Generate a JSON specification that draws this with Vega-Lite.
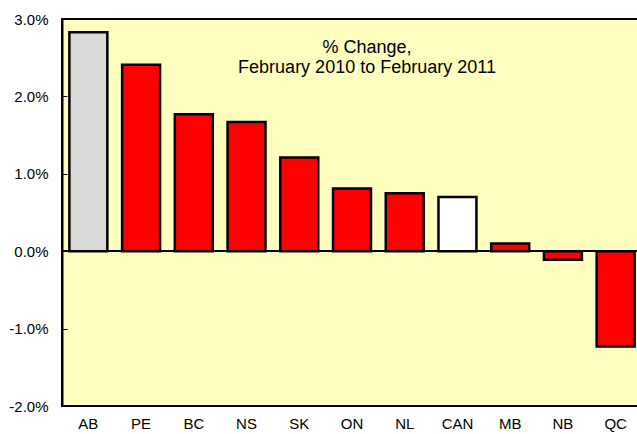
{
  "$schema": "https://vega.github.io/schema/vega-lite/v6.json",
  "width": 580,
  "height": 387,
  "autosize": {"type": "none"},
  "padding": {"left": 62, "top": 19, "right": 0, "bottom": 28},
  "background": "white",
  "config": {
    "view": {"fill": "#ffffc0", "stroke": "black", "strokeWidth": 2},
    "font": "Liberation Sans"
  },
  "data": {
    "values": [
      {"prov": "AB", "change": 2.83, "type": "highlight"},
      {"prov": "PE", "change": 2.41, "type": "province"},
      {"prov": "BC", "change": 1.77, "type": "province"},
      {"prov": "NS", "change": 1.67, "type": "province"},
      {"prov": "SK", "change": 1.21, "type": "province"},
      {"prov": "ON", "change": 0.81, "type": "province"},
      {"prov": "NL", "change": 0.75, "type": "province"},
      {"prov": "CAN", "change": 0.70, "type": "national"},
      {"prov": "MB", "change": 0.10, "type": "province"},
      {"prov": "NB", "change": -0.11, "type": "province"},
      {"prov": "QC", "change": -1.23, "type": "province"}
    ]
  },
  "layer": [
    {
      "mark": {"type": "bar", "stroke": "black", "strokeWidth": 2.5},
      "encoding": {
        "x": {
          "field": "prov", "type": "nominal", "sort": null,
          "scale": {"paddingInner": 0.28, "paddingOuter": 0.14},
          "axis": {
            "title": null, "domain": false, "ticks": false, "labelAngle": 0,
            "labelFontSize": 15, "labelColor": "black", "labelPadding": 10,
            "labelFont": "Liberation Sans"
          }
        },
        "y": {
          "field": "change", "type": "quantitative",
          "scale": {"domain": [-2, 3], "nice": false, "zero": false},
          "axis": {
            "title": null, "grid": false, "values": [-2, -1, 0, 1, 2, 3],
            "domainColor": "black", "domainWidth": 2,
            "tickColor": "black", "tickSize": -5, "tickWidth": 1,
            "labelPadding": 19, "labelFontSize": 15, "labelColor": "black",
            "labelFont": "Liberation Sans",
            "labelExpr": "(datum.value < 0 ? '-' : '') + format(abs(datum.value), '.1f') + '%'"
          }
        },
        "color": {
          "field": "type", "type": "nominal", "legend": null,
          "scale": {"domain": ["highlight", "province", "national"], "range": ["#d9d9d9", "#ff0000", "#ffffff"]}
        }
      }
    },
    {
      "mark": {"type": "rule", "color": "black", "strokeWidth": 1},
      "encoding": {"y": {"datum": 0}}
    },
    {
      "data": {"values": [{"label": ["% Change,", "February 2010 to February 2011"]}]},
      "mark": {"type": "text", "fontSize": 18, "lineHeight": 20, "color": "black", "baseline": "middle", "align": "center", "dx": 15, "font": "Liberation Sans"},
      "encoding": {
        "text": {"field": "label"},
        "x": {"datum": "ON"},
        "y": {"datum": 2.62}
      }
    }
  ]
}
